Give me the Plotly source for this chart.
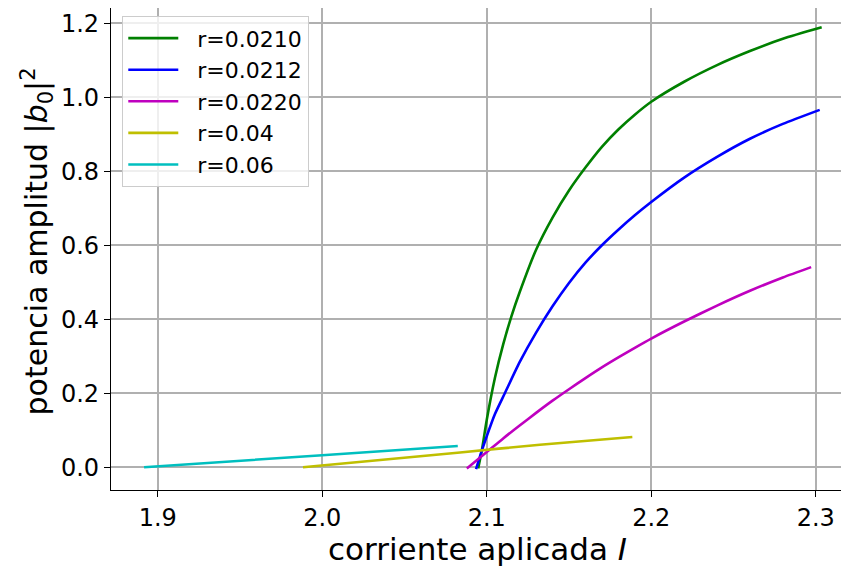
import plotly.graph_objects as go

# Data
labels = ["r=0.0210", "r=0.0212", "r=0.0220", "r=0.04", "r=0.06"]
colors = ["#008000", "#0000ff", "#bf00bf", "#bfbf00", "#00bfbf"]

x_r0210 = [2.0948, 2.097, 2.100, 2.105, 2.110, 2.115, 2.120, 2.130, 2.140, 2.150,
           2.160, 2.170, 2.180, 2.190, 2.200, 2.220, 2.240, 2.260, 2.280, 2.3036]
y_r0210 = [-0.003, 0.045, 0.128, 0.242, 0.332, 0.408, 0.473, 0.588, 0.675, 0.748,
           0.810, 0.866, 0.913, 0.953, 0.988, 1.042, 1.087, 1.125, 1.158, 1.189]

x_r0212 = [2.0935, 2.097, 2.100, 2.105, 2.111, 2.120, 2.130, 2.140, 2.150, 2.160,
           2.170, 2.180, 2.190, 2.200, 2.220, 2.240, 2.260, 2.280, 2.3024]
y_r0212 = [-0.005, 0.045, 0.084, 0.144, 0.2, 0.284, 0.364, 0.435, 0.498, 0.553,
           0.600, 0.642, 0.681, 0.717, 0.783, 0.839, 0.888, 0.928, 0.966]

x_r0220 = [2.0879, 2.100, 2.110, 2.120, 2.130, 2.140, 2.150, 2.160, 2.170, 2.180,
           2.190, 2.200, 2.220, 2.240, 2.260, 2.280, 2.2972]
y_r0220 = [-0.003, 0.041, 0.078, 0.113, 0.147, 0.180, 0.211, 0.241, 0.270, 0.297,
           0.323, 0.348, 0.394, 0.437, 0.477, 0.513, 0.541]

x_r04 = [1.9883, 2.0838, 2.1323, 2.1885]
y_r04 = [0.0, 0.040, 0.061, 0.082]

x_r06 = [1.8917, 2.0, 2.0824]
y_r06 = [0.0, 0.0327, 0.0576]

xs = [x_r0210, x_r0212, x_r0220, x_r04, x_r06]
ys = [y_r0210, y_r0212, y_r0220, y_r04, y_r06]

x_ticks = [1.9, 2.0, 2.1, 2.2, 2.3]
y_ticks = [0.0, 0.2, 0.4, 0.6, 0.8, 1.0, 1.2]

x_title = "corriente aplicada <i>I</i>"
y_title = "potencia amplitud |<i>b</i><sub>0</sub>|<sup>2</sup>"

fig = go.Figure()
for lab, col, x, y in zip(labels, colors, xs, ys):
    fig.add_trace(go.Scatter(x=x, y=y, mode="lines", name="\u00a0\u00a0" + lab,
                             line=dict(color=col, width=2.6, shape="spline", smoothing=0.6)))

font_family = "DejaVu Sans"
axis_common = dict(
    showline=True, linecolor="black", linewidth=1.3, mirror=True,
    ticks="outside", ticklen=6, tickwidth=1.3, tickcolor="black",
    showgrid=True, gridcolor="#b0b0b0", gridwidth=1.5,
    zeroline=False, automargin=False,
    tickfont=dict(family=font_family, size=24, color="black"),
)

# page body has an 8px margin, so the figure is sized/margined to compensate
fig.update_layout(
    width=841, height=561,
    margin=dict(l=103, r=1, t=0, b=79, pad=0),
    paper_bgcolor="white", plot_bgcolor="white",
    font=dict(family=font_family, color="black"),
    xaxis=dict(range=[1.8716, 2.3196], tickvals=x_ticks, ticktext=[f"{v:.1f}" for v in x_ticks],
               **axis_common),
    yaxis=dict(range=[-0.0614, 1.2413], tickvals=y_ticks, ticktext=[f"{v:.1f}" for v in y_ticks],
               **axis_common),
    legend=dict(x=0.0149, y=0.9834, xanchor="left", yanchor="top",
                bgcolor="rgba(255,255,255,0.8)", bordercolor="#cccccc", borderwidth=1.3,
                font=dict(family=font_family, size=22, color="black"),
                itemwidth=50, tracegroupgap=0),
    showlegend=True,
    annotations=[
        dict(text=x_title, xref="paper", yref="paper", x=0.4973, y=-0.1224,
             xanchor="center", yanchor="middle", showarrow=False,
             font=dict(family=font_family, size=31, color="black")),
        dict(text=y_title, xref="paper", yref="paper", x=-0.1004, y=0.5156,
             xanchor="center", yanchor="middle", showarrow=False, textangle=-90,
             font=dict(family=font_family, size=30, color="black")),
    ],
)

fig.write_html("out.html")
